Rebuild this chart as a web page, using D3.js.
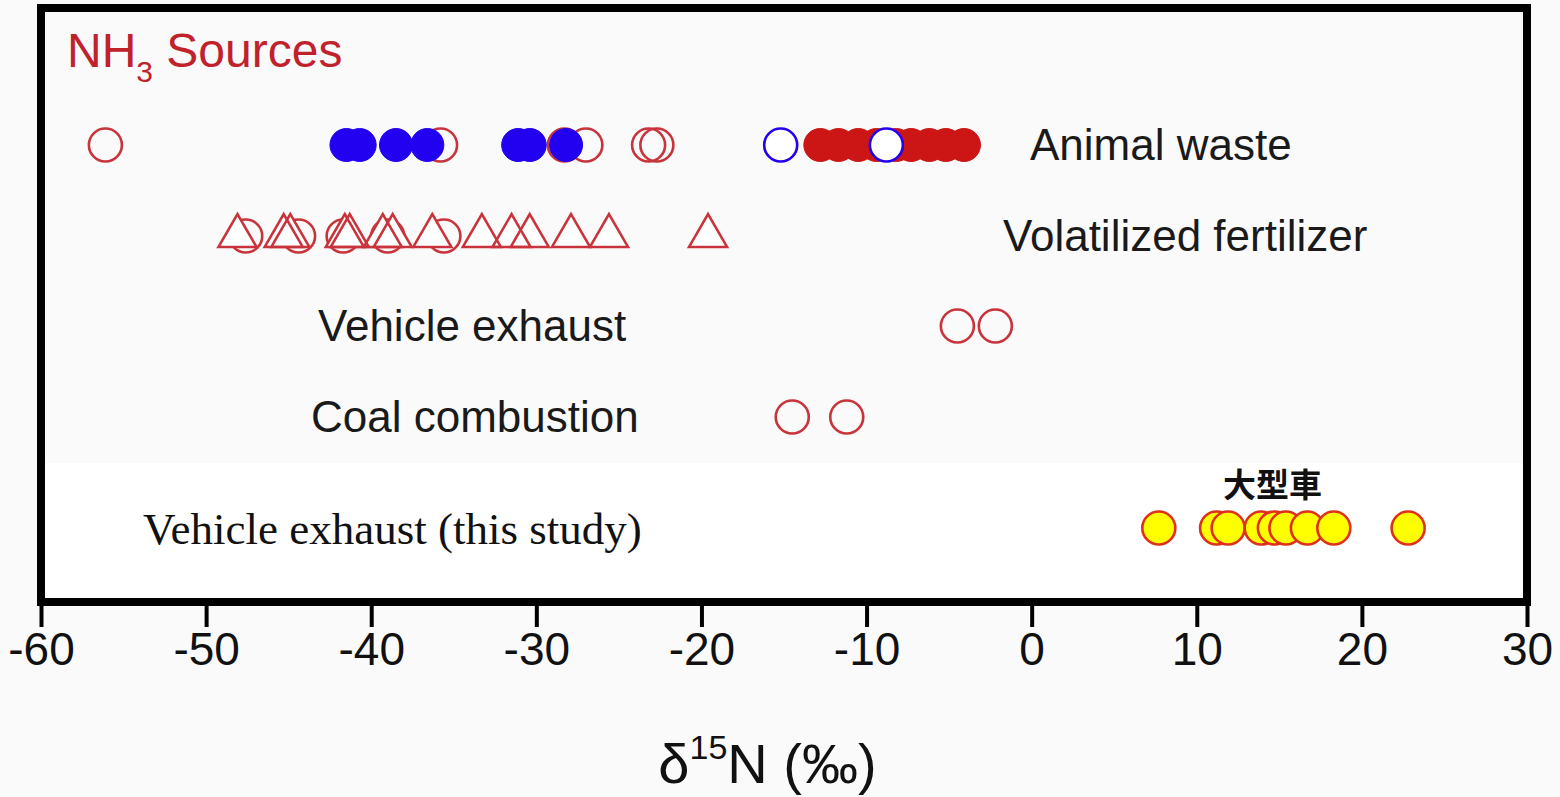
<!DOCTYPE html>
<html>
<head>
<meta charset="utf-8">
<script src="https://cdn.jsdelivr.net/npm/d3@7"></script>
<style>
  html, body { margin: 0; padding: 0; background: #fafafa; }
  svg { display: block; }
</style>
</head>
<body>
<svg id="chart" width="1560" height="797"></svg>
<script>
// δ15N of NH3 sources (‰)
const rows = ["Animal waste", "Volatilized fertilizer", "Vehicle exhaust", "Coal combustion", "Vehicle exhaust (this study)"];
const xTicks = [-60, -50, -40, -30, -20, -10, 0, 10, 20, 30];

// Animal waste
const animalOpenRed = [-56.1, -35.8, -28.3, -27.0, -23.2, -22.7];
const animalFilledRed = [-12.8, -11.7, -10.5, -9.4, -8.2, -7.3, -6.2, -5.2, -4.1];
const animalFilledBlue = [-41.5, -40.7, -38.5, -36.6, -31.1, -30.4, -28.2];
const animalOpenBlue = [-15.2, -8.8];

// Volatilized fertilizer
const fertCircles = [-47.6, -44.4, -41.7, -39.0, -35.6];
const fertTriangles = [-48.1, -45.3, -44.9, -41.6, -41.3, -39.3, -38.7, -36.3, -33.3, -31.5, -30.4, -27.9, -25.6, -19.6];

// Vehicle exhaust, coal combustion
const vehicleExhaust = [-4.5, -2.2];
const coalCombustion = [-14.5, -11.2];

// Vehicle exhaust, this study (heavy-duty vehicles)
const thisStudy = [7.7, 11.2, 11.9, 13.9, 14.7, 15.4, 16.7, 18.3, 22.8];

const svg = d3.select("#chart");
const frame = { left: 41, right: 1527, top: 8, bottom: 602 };

const x = d3.scaleLinear().domain([-60, 30]).range([frame.left, frame.right]);
const y = d3.scaleOrdinal().domain(rows).range([145, 236, 326, 417, 528]);

const R = 16.5;
const openRed = "#c9343c";
const fillRed = "#cc1616";
const blue = "#2200f0";

// white lower panel
svg.append("rect")
  .attr("x", frame.left).attr("y", 463)
  .attr("width", frame.right - frame.left).attr("height", frame.bottom - 463)
  .attr("fill", "#ffffff");

// title
const title = svg.append("text")
  .attr("x", 67).attr("y", 67)
  .attr("font-family", "'Liberation Sans', Arial, sans-serif")
  .attr("font-size", 48)
  .attr("fill", "#c0222c");
title.append("tspan").text("NH");
title.append("tspan").attr("font-size", 30).attr("dy", 15).text("3");
title.append("tspan").attr("dy", -15).text(" Sources");

// row labels
const labelSans = [
  { row: "Animal waste", x: 1030 },
  { row: "Volatilized fertilizer", x: 1003 },
  { row: "Vehicle exhaust", x: 318 },
  { row: "Coal combustion", x: 311 }
];
svg.selectAll("text.rowlabel").data(labelSans).enter().append("text")
  .attr("class", "rowlabel")
  .attr("x", d => d.x)
  .attr("y", d => y(d.row))
  .attr("dy", "0.33em")
  .attr("font-family", "'Liberation Sans', Arial, sans-serif")
  .attr("font-size", 44)
  .attr("fill", "#1a1a1a")
  .text(d => d.row);

svg.append("text")
  .attr("x", 143).attr("y", y(rows[4]))
  .attr("dy", "0.36em")
  .attr("font-family", "'Liberation Serif', 'Times New Roman', serif")
  .attr("font-size", 45)
  .attr("fill", "#111")
  .text(rows[4]);

svg.append("text")
  .attr("x", x(d3.mean(thisStudy.slice(1, 8))))
  .attr("y", 485)
  .attr("dy", "0.36em")
  .attr("text-anchor", "middle")
  .attr("font-family", "'Noto Sans CJK JP', 'Noto Sans CJK TC', sans-serif")
  .attr("font-weight", "bold")
  .attr("font-size", 33)
  .attr("fill", "#111")
  .text("大型車");

const marks = svg.append("g");

function circles(data, row, fill, stroke, sw) {
  marks.append("g").selectAll("circle").data(data).enter().append("circle")
    .attr("cx", d => x(d)).attr("cy", y(row)).attr("r", R)
    .attr("fill", fill).attr("stroke", stroke).attr("stroke-width", sw);
}

// Animal waste
circles(animalOpenRed, rows[0], "none", openRed, 2.6);
circles(animalFilledRed, rows[0], fillRed, fillRed, 1);
circles(animalFilledBlue, rows[0], blue, blue, 1);
circles(animalOpenBlue, rows[0], "#ffffff", blue, 2.6);

// Volatilized fertilizer: circles behind triangles
circles(fertCircles, rows[1], "none", openRed, 2.6);
const side = 38;
const triPath = d3.line()([
  [0, -side / Math.sqrt(3)],
  [side / 2, side / (2 * Math.sqrt(3))],
  [-side / 2, side / (2 * Math.sqrt(3))]
]) + "Z";
const triG = marks.append("g");
triG.selectAll("path.fill").data(fertTriangles).enter().append("path")
  .attr("class", "fill")
  .attr("d", triPath)
  .attr("transform", d => `translate(${x(d)},${y(rows[1])})`)
  .attr("fill", "#ffffff");
triG.selectAll("path.edge").data(fertTriangles).enter().append("path")
  .attr("class", "edge")
  .attr("d", triPath)
  .attr("transform", d => `translate(${x(d)},${y(rows[1])})`)
  .attr("fill", "none")
  .attr("stroke", openRed)
  .attr("stroke-width", 2.6)
  .attr("stroke-linejoin", "miter");

// Vehicle exhaust, coal combustion
circles(vehicleExhaust, rows[2], "none", openRed, 2.6);
circles(coalCombustion, rows[3], "none", openRed, 2.6);

// This study
circles(thisStudy, rows[4], "#ffff00", "#e0301a", 2.6);

// frame
svg.append("rect")
  .attr("x", frame.left).attr("y", frame.top)
  .attr("width", frame.right - frame.left)
  .attr("height", frame.bottom - frame.top)
  .attr("fill", "none")
  .attr("stroke", "#000")
  .attr("stroke-width", 8);

// x axis
const axis = svg.append("g")
  .attr("transform", `translate(0,${frame.bottom})`)
  .call(d3.axisBottom(x).tickValues(xTicks).tickSize(25).tickPadding(5).tickFormat(d3.format("d")));
axis.select(".domain").remove();
axis.selectAll(".tick line").attr("stroke", "#000").attr("stroke-width", 4);
axis.selectAll(".tick text")
  .attr("font-family", "'Liberation Sans', Arial, sans-serif")
  .attr("font-size", 46)
  .attr("fill", "#111")
  .text(d => d < 0 ? "-" + Math.abs(d) : d);

// axis title
const xt = svg.append("text")
  .attr("x", x(-16)).attr("y", 783)
  .attr("text-anchor", "middle")
  .attr("font-family", "'Liberation Sans', Arial, sans-serif")
  .attr("font-size", 56)
  .attr("fill", "#111");
xt.append("tspan").text("δ");
xt.append("tspan").attr("font-size", 34).attr("dy", -24).text("15");
xt.append("tspan").attr("dy", 24).text("N (‰)");
</script>
</body>
</html>
